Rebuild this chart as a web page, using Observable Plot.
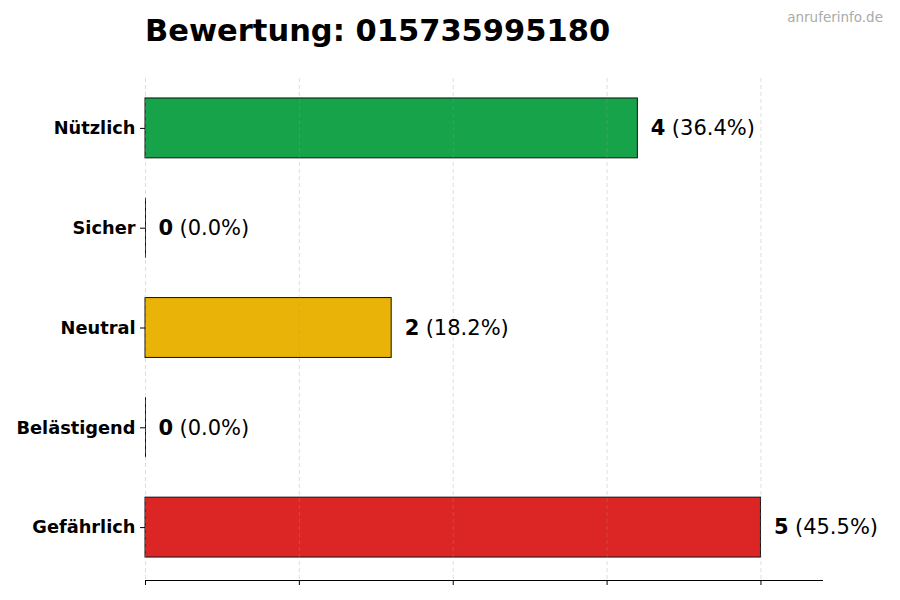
<!DOCTYPE html>
<html>
<head>
<meta charset="utf-8">
<script src="https://cdn.jsdelivr.net/npm/d3@7"></script>
<script src="https://cdn.jsdelivr.net/npm/@observablehq/plot@0.6"></script>
<style>
  html, body { margin: 0; padding: 0; background: #fff; }
  #wrap { position: relative; width: 900px; height: 600px; font-family: "DejaVu Sans", sans-serif; }
  #title { position: absolute; left: 145px; top: 16px; font-size: 30.5px; line-height: 30px; font-weight: bold; color: #000; white-space: nowrap; }
  #mark { position: absolute; right: 17px; top: 10px; font-size: 13.5px; line-height: 14px; color: #aaaaaa; white-space: nowrap; }
  #chart { position: absolute; left: 0; top: 0; }
</style>
</head>
<body>
<div id="wrap">
  <div id="chart"></div>
  <div id="title">Bewertung: 015735995180</div>
  <div id="mark">anruferinfo.de</div>
</div>
<script>
const categories = ["Nützlich", "Sicher", "Neutral", "Belästigend", "Gefährlich"];
const counts = [4, 0, 2, 0, 5];
const percents = [36.4, 0.0, 18.2, 0.0, 45.5];
const barColors = ["#16a34a", "#3b82f6", "#eab308", "#f97316", "#dc2626"];
const xTicks = [0, 1.25, 2.5, 3.75, 5];

const data = categories.map((c, i) => ({cat: c, count: counts[i], pct: percents[i], color: barColors[i]}));

const chart = Plot.plot({
  width: 900,
  height: 600,
  marginLeft: 145,
  marginRight: 78,
  marginTop: 78,
  marginBottom: 20,
  style: {fontFamily: "DejaVu Sans, sans-serif", color: "#000", background: "transparent"},
  x: {domain: [0, 5.5]},
  y: {domain: categories, paddingInner: 0.4, paddingOuter: 0.2, insetBottom: 3, round: false},
  color: {type: "identity"},
  marks: [
    Plot.barX(data, {y: "cat", x: "count", fill: "color", stroke: "#111", strokeWidth: 1}),
    Plot.tickX(data.filter(d => d.count === 0), {x: "count", y: "cat", stroke: "#111", strokeWidth: 1}),
    Plot.gridX(xTicks, {stroke: "#999", strokeOpacity: 0.4, strokeDasharray: "4,3", strokeWidth: 0.8}),
    Plot.axisX(xTicks, {tickSize: 5, tickFormat: () => "", label: null, strokeWidth: 1}),
    Plot.frame({anchor: "bottom", strokeWidth: 1}),
    Plot.axisY({tickSize: 5, tickPadding: 5, fontSize: 17.8, fontWeight: "bold", label: null}),
    Plot.text(data, {y: "cat", x: "count", text: d => String(d.count), textAnchor: "start", dx: 13, fontSize: 21, fontWeight: "bold", fill: "#000"}),
    Plot.text(data, {y: "cat", x: "count", text: d => `(${d.pct.toFixed(1)}%)`, textAnchor: "start", dx: 34, fontSize: 21, fill: "#000"})
  ]
});
document.getElementById("chart").appendChild(chart);
</script>
</body>
</html>
